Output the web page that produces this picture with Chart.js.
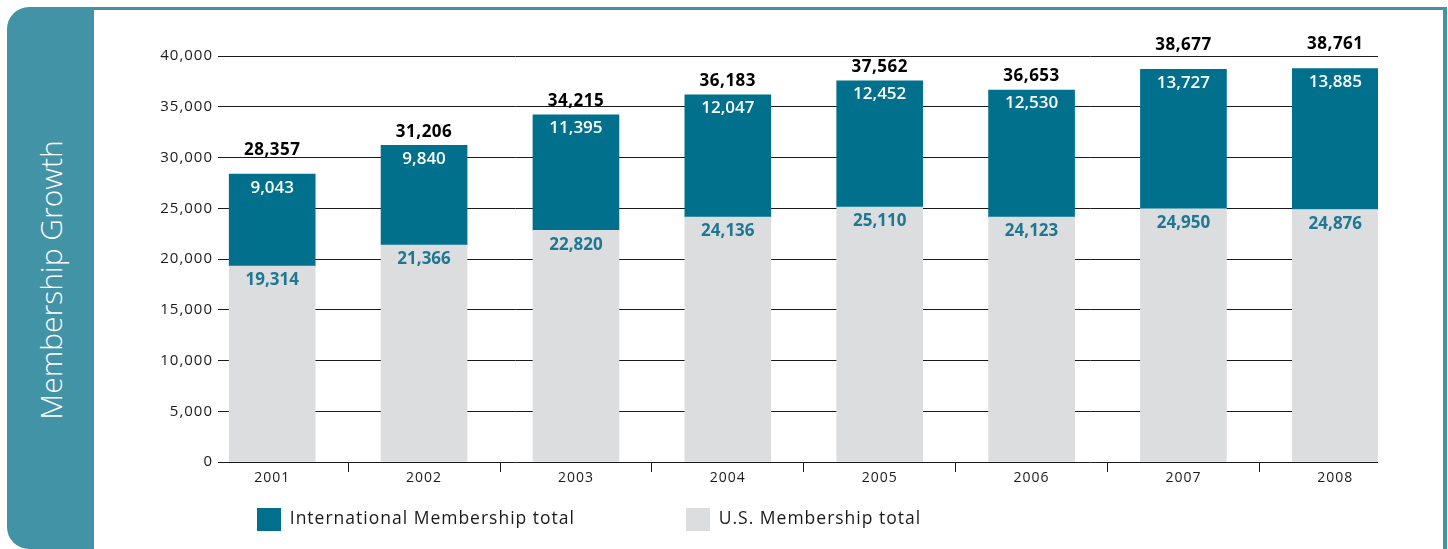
<!DOCTYPE html>
<html>
<head>
<meta charset="utf-8">
<script src="https://cdn.jsdelivr.net/npm/chart.js@4.4.1/dist/chart.umd.min.js"></script>
<style>
  html, body { margin: 0; padding: 0; width: 1448px; height: 549px; overflow: hidden; background: #ffffff; }
  #frame { position: absolute; left: 7px; top: 7px; width: 1440px; height: 542px; background: #4393a7; border-radius: 22px 0 0 22px; }
  #inner { position: absolute; left: 94px; top: 10px; width: 1349px; height: 560px; background: #ffffff; }
  #side { position: absolute; left: -149px; top: 260px; width: 400px; height: 40px; line-height: 40px; text-align: center;
          transform: rotate(-90deg); color: #ffffff; font-family: "Open Sans", sans-serif; font-weight: 300; font-size: 30px; white-space: nowrap; }
  #c { position: absolute; left: 0; top: 0; }
</style>
</head>
<body>
<div id="frame"></div>
<div id="inner"></div>
<div id="side">Membership Growth</div>
<canvas id="c" width="1448" height="549"></canvas>
<script>
// ---- data ----
const years = ['2001', '2002', '2003', '2004', '2005', '2006', '2007', '2008'];
const usMembers = [19314, 21366, 22820, 24136, 25110, 24123, 24950, 24876];
const intlMembers = [9043, 9840, 11395, 12047, 12452, 12530, 13727, 13885];
const totals = [28357, 31206, 34215, 36183, 37562, 36653, 38677, 38761];
const yTickValues = [0, 5000, 10000, 15000, 20000, 25000, 30000, 35000, 40000];
const seriesNames = ['U.S. Membership total', 'International Membership total'];

const fmt = v => v.toLocaleString('en-US');
const FONT = '"Open Sans", sans-serif';

const spacingPlugin = {
  id: 'spacing',
  beforeDraw(chart) { chart.ctx.letterSpacing = '1px'; }
};

const legendPlace = {
  id: 'legendPlace',
  afterLayout(chart) {
    const lg = chart.legend;
    if (!lg) return;
    const pad = lg.options.labels.padding;
    lg.left = 257 - pad;
    lg.right = 1448;
    lg.width = lg.right - lg.left;
    lg.top = 508 - pad;
  }
};

const valueLabels = {
  id: 'valueLabels',
  afterDatasetsDraw(chart) {
    const ctx = chart.ctx;
    const usMeta = chart.getDatasetMeta(0);
    const inMeta = chart.getDatasetMeta(1);
    const gridYs = chart.scales.y.ticks.map(t => chart.scales.y.getPixelForValue(t.value));
    ctx.save();
    ctx.textAlign = 'center';
    ctx.textBaseline = 'middle';
    years.forEach((yr, i) => {
      const us = usMeta.data[i];
      const inn = inMeta.data[i];
      ctx.letterSpacing = '0px';
      ctx.font = 'bold 17px ' + FONT;
      ctx.fillStyle = '#1e7893';
      ctx.fillText(fmt(usMembers[i]), us.x, us.y + 14.5);
      ctx.font = '600 17px ' + FONT;
      ctx.fillStyle = '#ffffff';
      ctx.fillText(fmt(intlMembers[i]), inn.x, inn.y + 13.5);
      let ty = inn.y - 13.5;
      if (gridYs.some(g => Math.abs(g - ty) < 4)) ty = inn.y - 24.5;
      ctx.letterSpacing = '0.5px';
      ctx.font = 'bold 17px ' + FONT;
      ctx.fillStyle = '#000000';
      ctx.fillText(fmt(totals[i]), inn.x, ty);
    });
    ctx.restore();
  }
};

new Chart(document.getElementById('c'), {
  type: 'bar',
  data: {
    datasets: [
      {
        label: seriesNames[0],
        data: usMembers.map((v, i) => ({ x: i, y: v })),
        backgroundColor: '#dcdddf',
        borderWidth: 0,
        barThickness: 86
      },
      {
        label: seriesNames[1],
        data: intlMembers.map((v, i) => ({ x: i, y: v })),
        backgroundColor: '#00708d',
        borderWidth: 0,
        barThickness: 86
      }
    ]
  },
  options: {
    responsive: false,
    animation: false,
    devicePixelRatio: 1,
    layout: { padding: { left: 120, right: 70, top: 56, bottom: 17 } },
    plugins: {
      tooltip: { enabled: false },
      legend: {
        position: 'bottom',
        align: 'start',
        reverse: true,
        maxHeight: 40,
        labels: {
          boxWidth: 24,
          boxHeight: 23,
          padding: 111,
          color: '#1a1a1a',
          font: { family: FONT, size: 17.5 }
        }
      }
    },
    scales: {
      x: {
        type: 'linear',
        stacked: true,
        offset: false,
        min: -0.291,
        max: 7.281,
        afterBuildTicks(scale) {
          const t = [];
          years.forEach((y, i) => { t.push({ value: i }); if (i < years.length - 1) t.push({ value: i + 0.5 }); });
          scale.ticks = t;
        },
        afterFit(scale) { scale.height = 30; },
        border: { display: false },
        grid: {
          offset: false,
          drawOnChartArea: false,
          drawTicks: true,
          tickLength: 10,
          tickColor: c => (c.tick && Number.isInteger(c.tick.value)) ? 'rgba(0,0,0,0)' : '#1a1a1a'
        },
        ticks: {
          autoSkip: false,
          maxRotation: 0,
          padding: -2,
          color: '#1a1a1a',
          font: { family: FONT, size: 14 },
          callback: v => Number.isInteger(v) ? years[v] : ''
        }
      },
      y: {
        stacked: true,
        min: 0,
        max: 40000,
        afterBuildTicks(scale) { scale.ticks = yTickValues.map(v => ({ value: v })); },
        afterFit(scale) { scale.width = 108; },
        border: { display: false },
        grid: { color: '#1a1a1a', lineWidth: 1, tickLength: 10, drawTicks: true },
        ticks: {
          padding: 5,
          color: '#1a1a1a',
          font: { family: FONT, size: 15 },
          callback: v => fmt(v)
        }
      }
    }
  },
  plugins: [spacingPlugin, legendPlace, valueLabels]
});
</script>
</body>
</html>
